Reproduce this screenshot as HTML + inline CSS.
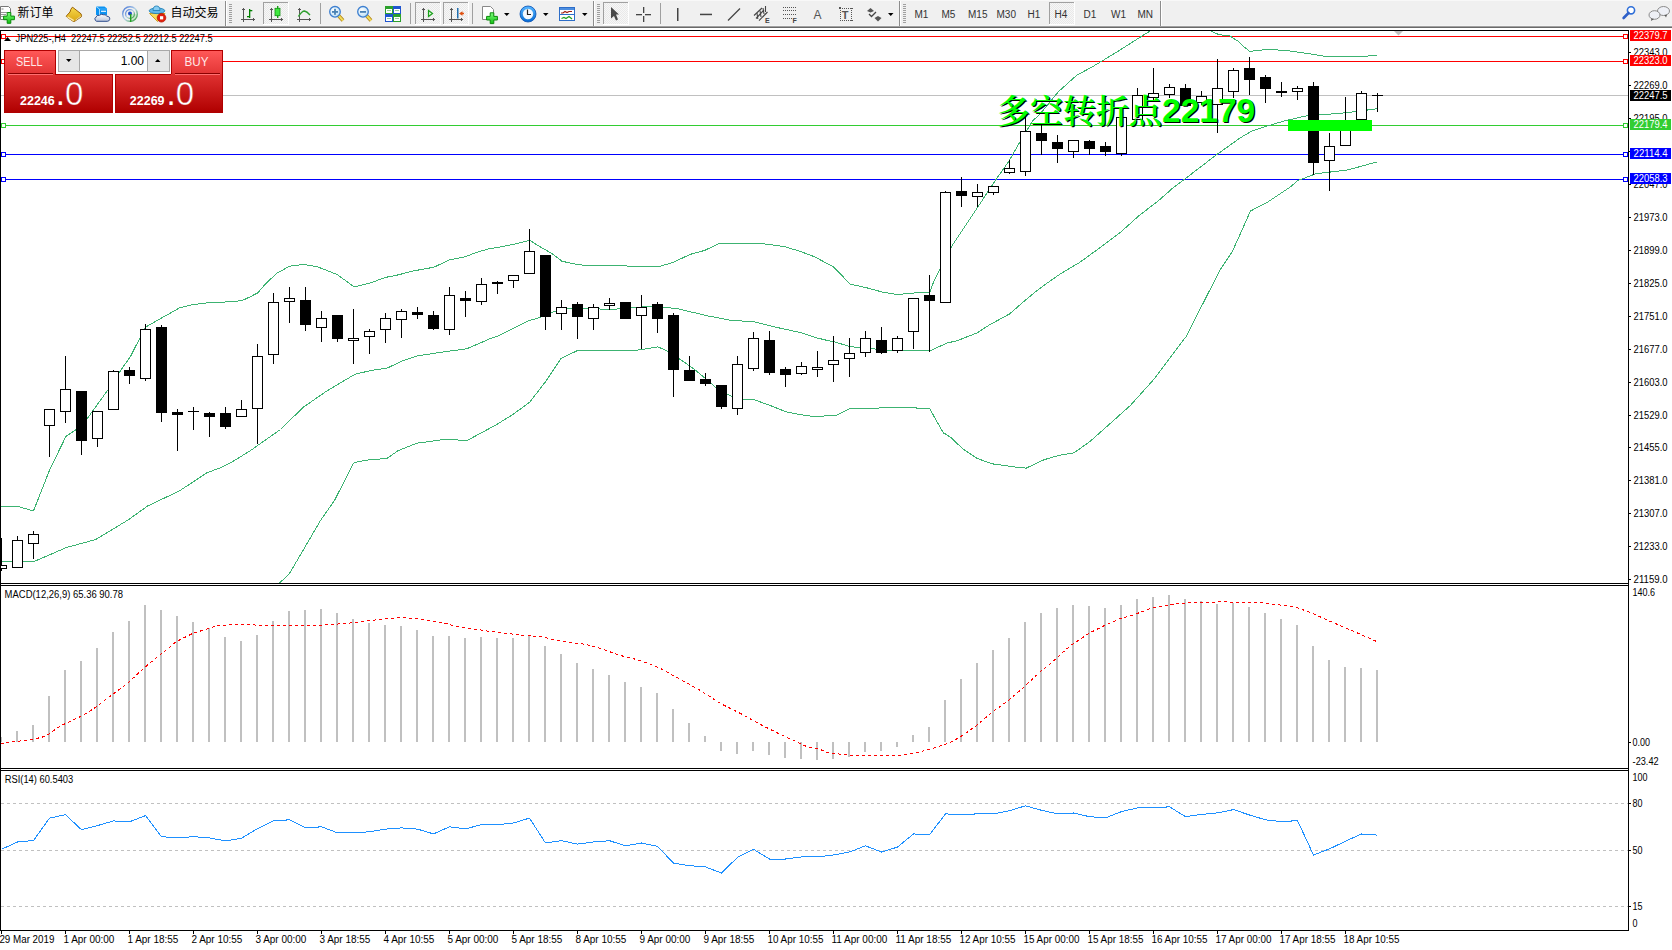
<!DOCTYPE html>
<html><head><meta charset="utf-8"><style>
html,body{margin:0;padding:0;width:1672px;height:950px;overflow:hidden;background:#fff;}
body{position:relative;font-family:"Liberation Sans","Noto Sans CJK SC",sans-serif;}
</style></head><body>
<svg width="1672" height="950" style="position:absolute;left:0;top:0"><defs><clipPath id="cm"><rect x="1" y="31" width="1627" height="552"/></clipPath><clipPath id="cd"><rect x="1" y="586" width="1627" height="182"/></clipPath><clipPath id="cr"><rect x="1" y="771" width="1627" height="159"/></clipPath></defs><rect x="0" y="30" width="1629" height="1" fill="#000"/><rect x="0" y="583" width="1629" height="1" fill="#000"/><rect x="0" y="585" width="1629" height="1" fill="#000"/><rect x="0" y="768" width="1629" height="1" fill="#000"/><rect x="0" y="770" width="1629" height="1" fill="#000"/><rect x="0" y="930" width="1629" height="1" fill="#000"/><rect x="0" y="30" width="1" height="901" fill="#000"/><rect x="1628" y="30" width="1" height="901" fill="#000"/><g clip-path="url(#cm)" shape-rendering="crispEdges"><rect x="1" y="36" width="1627" height="1" fill="#ff0000"/><rect x="1" y="61" width="1627" height="1" fill="#ff0000"/><rect x="1" y="95" width="1627" height="1" fill="#c0c0c0"/><rect x="1" y="125" width="1627" height="1" fill="#32cd32"/><rect x="1" y="154" width="1627" height="1" fill="#0000ff"/><rect x="1" y="179" width="1627" height="1" fill="#0000ff"/><polyline points="0.5,506.9 19.5,506.9 33.5,510.9 49.7,469.7 65.9,436.5 75.7,429.8 86.5,419.5 107.9,390.0 119.5,372.1 130.5,356.4 145.5,327.1 179.5,307.9 192.1,304.7 206.5,302.9 233.3,301.6 242.3,300.5 250.5,296.6 258.0,292.7 265.5,283.8 277.2,273.0 289.7,266.2 303.2,264.4 317.5,266.8 337.2,274.5 354.2,287.0 370.5,282.9 385.5,277.4 396.3,275.3 414.2,270.8 433.9,267.2 450.0,259.7 464.3,257.0 476.9,252.3 490.5,248.4 498.4,247.4 516.3,243.8 529.7,240.2 539.5,246.5 552.1,253.6 562.0,261.3 577.2,264.4 587.9,265.8 610.5,265.8 650.6,266.3 657.8,267.0 673.9,262.1 690.0,254.4 704.4,250.5 720.2,243.0 757.8,243.0 784.7,246.6 800.8,251.6 815.1,257.0 830.5,265.4 833.0,266.3 838.4,271.7 850.0,284.2 865.3,287.4 883.2,292.3 897.5,294.6 910.0,293.2 929.7,292.3 934.1,280.5 940.3,268.4 952.0,245.7 975.3,210.8 996.7,178.5 1009.3,160.6 1020.0,141.8 1032.5,121.2 1041.5,112.3 1058.4,91.7 1076.3,75.6 1094.2,65.7 1103.2,60.3 1119.3,50.5 1143.4,35.1 1149.3,31.5 1150.0,29.5" fill="none" stroke="#3cb371" stroke-width="1" /><polyline points="1211.5,29.5 1212.0,31.5 1218.6,34.5 1226.0,35.5 1229.5,35.5 1232.6,37.7 1237.7,41.0 1245.1,47.7 1250.3,51.9 1253.2,51.0 1262.0,50.0 1272.7,49.6 1288.8,50.9 1308.5,53.6 1326.4,56.6 1351.5,56.6 1377.4,55.7" fill="none" stroke="#3cb371" stroke-width="1" /><polyline points="0.5,561.7 22.5,561.5 33.5,561.7 66.8,547.4 95.5,539.6 128.5,519.7 147.4,506.1 179.5,490.9 206.5,473.0 220.8,467.6 231.5,462.3 250.5,450.6 258.5,444.9 280.5,429.5 303.2,407.3 326.5,391.2 355.1,374.2 370.5,370.6 387.4,368.0 401.7,361.2 417.8,355.8 441.1,352.3 467.0,348.7 490.5,338.5 498.4,336.0 528.8,320.8 542.3,316.7 552.1,312.2 564.7,308.2 587.9,308.2 610.5,309.7 630.9,307.4 654.2,306.5 665.0,307.4 677.5,308.7 707.9,315.9 730.5,320.3 754.2,321.8 775.7,327.2 800.8,332.6 816.9,337.9 830.5,341.2 834.8,341.9 850.9,346.9 859.9,347.2 872.4,348.7 892.1,350.8 929.7,351.0 946.6,343.2 957.4,340.6 977.1,332.9 989.6,324.8 1009.3,314.1 1021.8,303.3 1034.4,292.6 1045.1,284.5 1060.5,273.8 1079.9,262.3 1099.6,247.9 1121.1,231.8 1139.0,215.7 1158.7,200.5 1170.5,190.2 1171.5,188.9 1185.0,178.9 1215.4,155.6 1240.5,137.7 1251.2,131.4 1267.3,126.0 1285.2,120.7 1306.7,115.8 1330.0,114.1 1347.9,112.6 1377.4,108.7" fill="none" stroke="#3cb371" stroke-width="1" /><polyline points="276.5,584.5 279.5,583.1 289.5,573.5 320.5,520.5 334.5,500.5 353.5,463.1 356.5,462.1 370.5,459.5 386.5,458.7 398.1,450.7 416.9,443.2 441.1,439.9 457.2,439.9 466.1,441.0 490.5,427.9 496.6,424.5 512.7,414.7 529.7,402.1 545.0,382.4 561.1,358.3 577.2,350.7 610.5,350.7 632.7,350.8 643.5,349.3 657.8,346.8 668.5,351.7 679.3,358.8 693.6,368.7 704.4,377.6 716.9,388.4 730.5,395.9 743.5,399.1 754.2,399.8 768.5,404.8 786.5,412.0 800.8,414.7 815.1,416.8 830.5,415.5 834.8,416.0 849.1,408.8 872.4,408.5 890.3,407.1 906.4,407.4 929.7,408.8 944.0,433.9 945.5,434.0 949.0,436.4 950.5,437.1 962.8,448.9 977.2,458.5 992.7,463.9 1014.2,466.9 1026.2,468.1 1044.1,459.7 1058.5,455.5 1074.0,452.8 1089.6,441.8 1109.9,423.8 1130.5,405.3 1153.7,379.5 1186.3,336.3 1220.0,270.0 1232.6,251.0 1250.5,211.0 1268.4,201.6 1290.5,186.8 1297.8,180.6 1315.7,173.8 1347.9,169.9 1377.4,161.8" fill="none" stroke="#3cb371" stroke-width="1" /><rect x="1" y="538" width="1" height="27" fill="#000"/><rect x="1" y="569" width="1" height="2" fill="#000"/><rect x="-4" y="565" width="11" height="4" fill="#000"/><rect x="-3" y="566" width="9" height="2" fill="#fff"/><rect x="17" y="536" width="1" height="4" fill="#000"/><rect x="12" y="540" width="11" height="28" fill="#000"/><rect x="13" y="541" width="9" height="26" fill="#fff"/><rect x="33" y="531" width="1" height="3" fill="#000"/><rect x="33" y="544" width="1" height="15" fill="#000"/><rect x="28" y="534" width="11" height="10" fill="#000"/><rect x="29" y="535" width="9" height="8" fill="#fff"/><rect x="49" y="426" width="1" height="31" fill="#000"/><rect x="44" y="409" width="11" height="17" fill="#000"/><rect x="45" y="410" width="9" height="15" fill="#fff"/><rect x="65" y="356" width="1" height="33" fill="#000"/><rect x="65" y="412" width="1" height="11" fill="#000"/><rect x="60" y="389" width="11" height="23" fill="#000"/><rect x="61" y="390" width="9" height="21" fill="#fff"/><rect x="81" y="441" width="1" height="14" fill="#000"/><rect x="76" y="391" width="11" height="50" fill="#000"/><rect x="97" y="439" width="1" height="8" fill="#000"/><rect x="92" y="411" width="11" height="28" fill="#000"/><rect x="93" y="412" width="9" height="26" fill="#fff"/><rect x="113" y="370" width="1" height="1" fill="#000"/><rect x="108" y="371" width="11" height="39" fill="#000"/><rect x="109" y="372" width="9" height="37" fill="#fff"/><rect x="129" y="367" width="1" height="3" fill="#000"/><rect x="129" y="376" width="1" height="8" fill="#000"/><rect x="124" y="370" width="11" height="6" fill="#000"/><rect x="145" y="324" width="1" height="5" fill="#000"/><rect x="145" y="379" width="1" height="2" fill="#000"/><rect x="140" y="329" width="11" height="50" fill="#000"/><rect x="141" y="330" width="9" height="48" fill="#fff"/><rect x="161" y="325" width="1" height="2" fill="#000"/><rect x="161" y="413" width="1" height="9" fill="#000"/><rect x="156" y="327" width="11" height="86" fill="#000"/><rect x="177" y="409" width="1" height="3" fill="#000"/><rect x="177" y="415" width="1" height="36" fill="#000"/><rect x="172" y="412" width="11" height="3" fill="#000"/><rect x="193" y="407" width="1" height="4" fill="#000"/><rect x="193" y="412" width="1" height="18" fill="#000"/><rect x="188" y="411" width="11" height="1" fill="#000"/><rect x="209" y="412" width="1" height="1" fill="#000"/><rect x="209" y="417" width="1" height="20" fill="#000"/><rect x="204" y="413" width="11" height="4" fill="#000"/><rect x="225" y="407" width="1" height="6" fill="#000"/><rect x="225" y="427" width="1" height="2" fill="#000"/><rect x="220" y="413" width="11" height="14" fill="#000"/><rect x="241" y="400" width="1" height="9" fill="#000"/><rect x="236" y="409" width="11" height="8" fill="#000"/><rect x="237" y="410" width="9" height="6" fill="#fff"/><rect x="257" y="344" width="1" height="12" fill="#000"/><rect x="257" y="409" width="1" height="35" fill="#000"/><rect x="252" y="356" width="11" height="53" fill="#000"/><rect x="253" y="357" width="9" height="51" fill="#fff"/><rect x="273" y="293" width="1" height="9" fill="#000"/><rect x="273" y="355" width="1" height="9" fill="#000"/><rect x="268" y="302" width="11" height="53" fill="#000"/><rect x="269" y="303" width="9" height="51" fill="#fff"/><rect x="289" y="287" width="1" height="11" fill="#000"/><rect x="289" y="302" width="1" height="21" fill="#000"/><rect x="284" y="298" width="11" height="4" fill="#000"/><rect x="285" y="299" width="9" height="2" fill="#fff"/><rect x="305" y="287" width="1" height="13" fill="#000"/><rect x="305" y="325" width="1" height="6" fill="#000"/><rect x="300" y="300" width="11" height="25" fill="#000"/><rect x="321" y="311" width="1" height="7" fill="#000"/><rect x="321" y="328" width="1" height="14" fill="#000"/><rect x="316" y="318" width="11" height="10" fill="#000"/><rect x="317" y="319" width="9" height="8" fill="#fff"/><rect x="337" y="339" width="1" height="3" fill="#000"/><rect x="332" y="315" width="11" height="24" fill="#000"/><rect x="353" y="309" width="1" height="29" fill="#000"/><rect x="353" y="341" width="1" height="23" fill="#000"/><rect x="348" y="338" width="11" height="3" fill="#000"/><rect x="349" y="339" width="9" height="1" fill="#fff"/><rect x="369" y="329" width="1" height="2" fill="#000"/><rect x="369" y="337" width="1" height="17" fill="#000"/><rect x="364" y="331" width="11" height="6" fill="#000"/><rect x="365" y="332" width="9" height="4" fill="#fff"/><rect x="385" y="313" width="1" height="5" fill="#000"/><rect x="385" y="330" width="1" height="13" fill="#000"/><rect x="380" y="318" width="11" height="12" fill="#000"/><rect x="381" y="319" width="9" height="10" fill="#fff"/><rect x="401" y="309" width="1" height="2" fill="#000"/><rect x="401" y="320" width="1" height="18" fill="#000"/><rect x="396" y="311" width="11" height="9" fill="#000"/><rect x="397" y="312" width="9" height="7" fill="#fff"/><rect x="417" y="307" width="1" height="5" fill="#000"/><rect x="417" y="315" width="1" height="4" fill="#000"/><rect x="412" y="312" width="11" height="3" fill="#000"/><rect x="433" y="311" width="1" height="4" fill="#000"/><rect x="433" y="329" width="1" height="1" fill="#000"/><rect x="428" y="315" width="11" height="14" fill="#000"/><rect x="449" y="287" width="1" height="8" fill="#000"/><rect x="449" y="330" width="1" height="5" fill="#000"/><rect x="444" y="295" width="11" height="35" fill="#000"/><rect x="445" y="296" width="9" height="33" fill="#fff"/><rect x="465" y="291" width="1" height="7" fill="#000"/><rect x="465" y="301" width="1" height="16" fill="#000"/><rect x="460" y="298" width="11" height="3" fill="#000"/><rect x="481" y="278" width="1" height="6" fill="#000"/><rect x="481" y="302" width="1" height="3" fill="#000"/><rect x="476" y="284" width="11" height="18" fill="#000"/><rect x="477" y="285" width="9" height="16" fill="#fff"/><rect x="497" y="281" width="1" height="1" fill="#000"/><rect x="497" y="284" width="1" height="10" fill="#000"/><rect x="492" y="282" width="11" height="2" fill="#000"/><rect x="513" y="281" width="1" height="7" fill="#000"/><rect x="508" y="275" width="11" height="6" fill="#000"/><rect x="509" y="276" width="9" height="4" fill="#fff"/><rect x="529" y="229" width="1" height="22" fill="#000"/><rect x="524" y="251" width="11" height="23" fill="#000"/><rect x="525" y="252" width="9" height="21" fill="#fff"/><rect x="545" y="317" width="1" height="13" fill="#000"/><rect x="540" y="255" width="11" height="62" fill="#000"/><rect x="561" y="300" width="1" height="7" fill="#000"/><rect x="561" y="314" width="1" height="16" fill="#000"/><rect x="556" y="307" width="11" height="7" fill="#000"/><rect x="557" y="308" width="9" height="5" fill="#fff"/><rect x="577" y="302" width="1" height="2" fill="#000"/><rect x="577" y="317" width="1" height="22" fill="#000"/><rect x="572" y="304" width="11" height="13" fill="#000"/><rect x="593" y="304" width="1" height="3" fill="#000"/><rect x="593" y="319" width="1" height="11" fill="#000"/><rect x="588" y="307" width="11" height="12" fill="#000"/><rect x="589" y="308" width="9" height="10" fill="#fff"/><rect x="609" y="298" width="1" height="5" fill="#000"/><rect x="609" y="306" width="1" height="4" fill="#000"/><rect x="604" y="303" width="11" height="3" fill="#000"/><rect x="605" y="304" width="9" height="1" fill="#fff"/><rect x="620" y="302" width="11" height="17" fill="#000"/><rect x="641" y="295" width="1" height="12" fill="#000"/><rect x="641" y="316" width="1" height="33" fill="#000"/><rect x="636" y="307" width="11" height="9" fill="#000"/><rect x="637" y="308" width="9" height="7" fill="#fff"/><rect x="657" y="302" width="1" height="2" fill="#000"/><rect x="657" y="319" width="1" height="14" fill="#000"/><rect x="652" y="304" width="11" height="15" fill="#000"/><rect x="673" y="313" width="1" height="2" fill="#000"/><rect x="673" y="370" width="1" height="27" fill="#000"/><rect x="668" y="315" width="11" height="55" fill="#000"/><rect x="689" y="356" width="1" height="14" fill="#000"/><rect x="684" y="370" width="11" height="11" fill="#000"/><rect x="705" y="373" width="1" height="6" fill="#000"/><rect x="705" y="384" width="1" height="2" fill="#000"/><rect x="700" y="379" width="11" height="5" fill="#000"/><rect x="721" y="407" width="1" height="2" fill="#000"/><rect x="716" y="385" width="11" height="22" fill="#000"/><rect x="737" y="356" width="1" height="8" fill="#000"/><rect x="737" y="409" width="1" height="6" fill="#000"/><rect x="732" y="364" width="11" height="45" fill="#000"/><rect x="733" y="365" width="9" height="43" fill="#fff"/><rect x="753" y="332" width="1" height="6" fill="#000"/><rect x="753" y="369" width="1" height="2" fill="#000"/><rect x="748" y="338" width="11" height="31" fill="#000"/><rect x="749" y="339" width="9" height="29" fill="#fff"/><rect x="769" y="331" width="1" height="9" fill="#000"/><rect x="769" y="373" width="1" height="2" fill="#000"/><rect x="764" y="340" width="11" height="33" fill="#000"/><rect x="785" y="367" width="1" height="2" fill="#000"/><rect x="785" y="375" width="1" height="12" fill="#000"/><rect x="780" y="369" width="11" height="6" fill="#000"/><rect x="801" y="362" width="1" height="4" fill="#000"/><rect x="801" y="374" width="1" height="1" fill="#000"/><rect x="796" y="366" width="11" height="8" fill="#000"/><rect x="797" y="367" width="9" height="6" fill="#fff"/><rect x="817" y="351" width="1" height="16" fill="#000"/><rect x="817" y="370" width="1" height="7" fill="#000"/><rect x="812" y="367" width="11" height="3" fill="#000"/><rect x="813" y="368" width="9" height="1" fill="#fff"/><rect x="833" y="336" width="1" height="24" fill="#000"/><rect x="833" y="365" width="1" height="17" fill="#000"/><rect x="828" y="360" width="11" height="5" fill="#000"/><rect x="829" y="361" width="9" height="3" fill="#fff"/><rect x="849" y="338" width="1" height="15" fill="#000"/><rect x="849" y="359" width="1" height="18" fill="#000"/><rect x="844" y="353" width="11" height="6" fill="#000"/><rect x="845" y="354" width="9" height="4" fill="#fff"/><rect x="865" y="331" width="1" height="7" fill="#000"/><rect x="865" y="353" width="1" height="4" fill="#000"/><rect x="860" y="338" width="11" height="15" fill="#000"/><rect x="861" y="339" width="9" height="13" fill="#fff"/><rect x="881" y="327" width="1" height="13" fill="#000"/><rect x="881" y="353" width="1" height="1" fill="#000"/><rect x="876" y="340" width="11" height="13" fill="#000"/><rect x="897" y="336" width="1" height="2" fill="#000"/><rect x="897" y="351" width="1" height="2" fill="#000"/><rect x="892" y="338" width="11" height="13" fill="#000"/><rect x="893" y="339" width="9" height="11" fill="#fff"/><rect x="913" y="332" width="1" height="17" fill="#000"/><rect x="908" y="298" width="11" height="34" fill="#000"/><rect x="909" y="299" width="9" height="32" fill="#fff"/><rect x="929" y="275" width="1" height="20" fill="#000"/><rect x="929" y="301" width="1" height="51" fill="#000"/><rect x="924" y="295" width="11" height="6" fill="#000"/><rect x="945" y="191" width="1" height="1" fill="#000"/><rect x="940" y="192" width="11" height="111" fill="#000"/><rect x="941" y="193" width="9" height="109" fill="#fff"/><rect x="961" y="177" width="1" height="14" fill="#000"/><rect x="961" y="196" width="1" height="11" fill="#000"/><rect x="956" y="191" width="11" height="5" fill="#000"/><rect x="977" y="184" width="1" height="8" fill="#000"/><rect x="977" y="197" width="1" height="10" fill="#000"/><rect x="972" y="192" width="11" height="5" fill="#000"/><rect x="973" y="193" width="9" height="3" fill="#fff"/><rect x="993" y="193" width="1" height="2" fill="#000"/><rect x="988" y="186" width="11" height="7" fill="#000"/><rect x="989" y="187" width="9" height="5" fill="#fff"/><rect x="1009" y="160" width="1" height="8" fill="#000"/><rect x="1009" y="173" width="1" height="1" fill="#000"/><rect x="1004" y="168" width="11" height="5" fill="#000"/><rect x="1005" y="169" width="9" height="3" fill="#fff"/><rect x="1025" y="114" width="1" height="17" fill="#000"/><rect x="1025" y="172" width="1" height="4" fill="#000"/><rect x="1020" y="131" width="11" height="41" fill="#000"/><rect x="1021" y="132" width="9" height="39" fill="#fff"/><rect x="1041" y="124" width="1" height="9" fill="#000"/><rect x="1041" y="141" width="1" height="14" fill="#000"/><rect x="1036" y="133" width="11" height="8" fill="#000"/><rect x="1057" y="135" width="1" height="7" fill="#000"/><rect x="1057" y="149" width="1" height="14" fill="#000"/><rect x="1052" y="142" width="11" height="7" fill="#000"/><rect x="1073" y="152" width="1" height="6" fill="#000"/><rect x="1068" y="140" width="11" height="12" fill="#000"/><rect x="1069" y="141" width="9" height="10" fill="#fff"/><rect x="1089" y="140" width="1" height="1" fill="#000"/><rect x="1089" y="149" width="1" height="6" fill="#000"/><rect x="1084" y="141" width="11" height="8" fill="#000"/><rect x="1105" y="142" width="1" height="4" fill="#000"/><rect x="1105" y="152" width="1" height="4" fill="#000"/><rect x="1100" y="146" width="11" height="6" fill="#000"/><rect x="1121" y="154" width="1" height="2" fill="#000"/><rect x="1116" y="117" width="11" height="37" fill="#000"/><rect x="1117" y="118" width="9" height="35" fill="#fff"/><rect x="1137" y="88" width="1" height="7" fill="#000"/><rect x="1132" y="95" width="11" height="25" fill="#000"/><rect x="1133" y="96" width="9" height="23" fill="#fff"/><rect x="1153" y="68" width="1" height="25" fill="#000"/><rect x="1153" y="98" width="1" height="2" fill="#000"/><rect x="1148" y="93" width="11" height="5" fill="#000"/><rect x="1149" y="94" width="9" height="3" fill="#fff"/><rect x="1169" y="84" width="1" height="3" fill="#000"/><rect x="1169" y="95" width="1" height="3" fill="#000"/><rect x="1164" y="87" width="11" height="8" fill="#000"/><rect x="1165" y="88" width="9" height="6" fill="#fff"/><rect x="1185" y="84" width="1" height="4" fill="#000"/><rect x="1180" y="88" width="11" height="18" fill="#000"/><rect x="1201" y="91" width="1" height="5" fill="#000"/><rect x="1201" y="103" width="1" height="2" fill="#000"/><rect x="1196" y="96" width="11" height="7" fill="#000"/><rect x="1197" y="97" width="9" height="5" fill="#fff"/><rect x="1217" y="59" width="1" height="29" fill="#000"/><rect x="1217" y="105" width="1" height="28" fill="#000"/><rect x="1212" y="88" width="11" height="17" fill="#000"/><rect x="1213" y="89" width="9" height="15" fill="#fff"/><rect x="1233" y="68" width="1" height="2" fill="#000"/><rect x="1233" y="92" width="1" height="6" fill="#000"/><rect x="1228" y="70" width="11" height="22" fill="#000"/><rect x="1229" y="71" width="9" height="20" fill="#fff"/><rect x="1249" y="57" width="1" height="11" fill="#000"/><rect x="1249" y="80" width="1" height="15" fill="#000"/><rect x="1244" y="68" width="11" height="12" fill="#000"/><rect x="1265" y="75" width="1" height="2" fill="#000"/><rect x="1265" y="89" width="1" height="14" fill="#000"/><rect x="1260" y="77" width="11" height="12" fill="#000"/><rect x="1281" y="82" width="1" height="9" fill="#000"/><rect x="1281" y="93" width="1" height="4" fill="#000"/><rect x="1276" y="91" width="11" height="2" fill="#000"/><rect x="1297" y="86" width="1" height="2" fill="#000"/><rect x="1297" y="92" width="1" height="8" fill="#000"/><rect x="1292" y="88" width="11" height="4" fill="#000"/><rect x="1293" y="89" width="9" height="2" fill="#fff"/><rect x="1313" y="82" width="1" height="4" fill="#000"/><rect x="1313" y="163" width="1" height="12" fill="#000"/><rect x="1308" y="86" width="11" height="77" fill="#000"/><rect x="1329" y="133" width="1" height="13" fill="#000"/><rect x="1329" y="161" width="1" height="30" fill="#000"/><rect x="1324" y="146" width="11" height="15" fill="#000"/><rect x="1325" y="147" width="9" height="13" fill="#fff"/><rect x="1345" y="97" width="1" height="32" fill="#000"/><rect x="1340" y="129" width="11" height="17" fill="#000"/><rect x="1341" y="130" width="9" height="15" fill="#fff"/><rect x="1361" y="91" width="1" height="2" fill="#000"/><rect x="1361" y="120" width="1" height="2" fill="#000"/><rect x="1356" y="93" width="11" height="27" fill="#000"/><rect x="1357" y="94" width="9" height="25" fill="#fff"/><rect x="1377" y="93" width="1" height="2" fill="#000"/><rect x="1377" y="96" width="1" height="16" fill="#000"/><rect x="1372" y="95" width="11" height="1" fill="#000"/><rect x="1623.5" y="34.5" width="4" height="4" fill="#fff" stroke="#ff0000" stroke-width="1"/><rect x="1.5" y="34.5" width="4" height="4" fill="#fff" stroke="#ff0000" stroke-width="1"/><rect x="1623.5" y="59.5" width="4" height="4" fill="#fff" stroke="#ff0000" stroke-width="1"/><rect x="1.5" y="59.5" width="4" height="4" fill="#fff" stroke="#ff0000" stroke-width="1"/><rect x="1623.5" y="123.5" width="4" height="4" fill="#fff" stroke="#32cd32" stroke-width="1"/><rect x="1.5" y="123.5" width="4" height="4" fill="#fff" stroke="#32cd32" stroke-width="1"/><rect x="1623.5" y="152.5" width="4" height="4" fill="#fff" stroke="#0000ff" stroke-width="1"/><rect x="1.5" y="152.5" width="4" height="4" fill="#fff" stroke="#0000ff" stroke-width="1"/><rect x="1623.5" y="177.5" width="4" height="4" fill="#fff" stroke="#0000ff" stroke-width="1"/><rect x="1.5" y="177.5" width="4" height="4" fill="#fff" stroke="#0000ff" stroke-width="1"/><rect x="1288" y="120" width="84" height="11" fill="#00ff00"/></g><text x="997" y="123" font-family="'Liberation Serif','Noto Serif CJK SC',serif" font-weight="600" font-size="33" fill="#000" transform="translate(1.3,1.3)">多空转折点<tspan font-family="'Liberation Sans',sans-serif" font-size="33.5" dy="-1.2">22179</tspan></text><text x="997" y="123" font-family="'Liberation Serif','Noto Serif CJK SC',serif" font-weight="600" font-size="33" fill="#00ff00">多空转折点<tspan font-family="'Liberation Sans',sans-serif" font-size="33.5" dy="-1.2">22179</tspan></text><g clip-path="url(#cd)" shape-rendering="crispEdges"><rect x="0" y="737" width="2" height="5" fill="#c0c0c0"/><rect x="16" y="731" width="2" height="11" fill="#c0c0c0"/><rect x="32" y="725" width="2" height="17" fill="#c0c0c0"/><rect x="48" y="696" width="2" height="46" fill="#c0c0c0"/><rect x="64" y="670" width="2" height="72" fill="#c0c0c0"/><rect x="80" y="661" width="2" height="81" fill="#c0c0c0"/><rect x="96" y="648" width="2" height="94" fill="#c0c0c0"/><rect x="112" y="632" width="2" height="110" fill="#c0c0c0"/><rect x="128" y="621" width="2" height="121" fill="#c0c0c0"/><rect x="144" y="605" width="2" height="137" fill="#c0c0c0"/><rect x="160" y="610" width="2" height="132" fill="#c0c0c0"/><rect x="176" y="616" width="2" height="126" fill="#c0c0c0"/><rect x="192" y="622" width="2" height="120" fill="#c0c0c0"/><rect x="208" y="628" width="2" height="114" fill="#c0c0c0"/><rect x="224" y="637" width="2" height="105" fill="#c0c0c0"/><rect x="240" y="641" width="2" height="101" fill="#c0c0c0"/><rect x="256" y="635" width="2" height="107" fill="#c0c0c0"/><rect x="272" y="621" width="2" height="121" fill="#c0c0c0"/><rect x="288" y="611" width="2" height="131" fill="#c0c0c0"/><rect x="304" y="610" width="2" height="132" fill="#c0c0c0"/><rect x="320" y="609" width="2" height="133" fill="#c0c0c0"/><rect x="336" y="613" width="2" height="129" fill="#c0c0c0"/><rect x="352" y="619" width="2" height="123" fill="#c0c0c0"/><rect x="368" y="623" width="2" height="119" fill="#c0c0c0"/><rect x="384" y="625" width="2" height="117" fill="#c0c0c0"/><rect x="400" y="626" width="2" height="116" fill="#c0c0c0"/><rect x="416" y="630" width="2" height="112" fill="#c0c0c0"/><rect x="432" y="636" width="2" height="106" fill="#c0c0c0"/><rect x="448" y="636" width="2" height="106" fill="#c0c0c0"/><rect x="464" y="638" width="2" height="104" fill="#c0c0c0"/><rect x="480" y="637" width="2" height="105" fill="#c0c0c0"/><rect x="496" y="638" width="2" height="104" fill="#c0c0c0"/><rect x="512" y="638" width="2" height="104" fill="#c0c0c0"/><rect x="528" y="635" width="2" height="107" fill="#c0c0c0"/><rect x="544" y="646" width="2" height="96" fill="#c0c0c0"/><rect x="560" y="654" width="2" height="88" fill="#c0c0c0"/><rect x="576" y="663" width="2" height="79" fill="#c0c0c0"/><rect x="592" y="669" width="2" height="73" fill="#c0c0c0"/><rect x="608" y="675" width="2" height="67" fill="#c0c0c0"/><rect x="624" y="682" width="2" height="60" fill="#c0c0c0"/><rect x="640" y="687" width="2" height="55" fill="#c0c0c0"/><rect x="656" y="693" width="2" height="49" fill="#c0c0c0"/><rect x="672" y="709" width="2" height="33" fill="#c0c0c0"/><rect x="688" y="723" width="2" height="19" fill="#c0c0c0"/><rect x="704" y="736" width="2" height="6" fill="#c0c0c0"/><rect x="720" y="742" width="2" height="9" fill="#c0c0c0"/><rect x="736" y="742" width="2" height="12" fill="#c0c0c0"/><rect x="752" y="742" width="2" height="9" fill="#c0c0c0"/><rect x="768" y="742" width="2" height="13" fill="#c0c0c0"/><rect x="784" y="742" width="2" height="16" fill="#c0c0c0"/><rect x="800" y="742" width="2" height="17" fill="#c0c0c0"/><rect x="816" y="742" width="2" height="18" fill="#c0c0c0"/><rect x="832" y="742" width="2" height="17" fill="#c0c0c0"/><rect x="848" y="742" width="2" height="15" fill="#c0c0c0"/><rect x="864" y="742" width="2" height="10" fill="#c0c0c0"/><rect x="880" y="742" width="2" height="9" fill="#c0c0c0"/><rect x="896" y="742" width="2" height="5" fill="#c0c0c0"/><rect x="912" y="735" width="2" height="7" fill="#c0c0c0"/><rect x="928" y="727" width="2" height="15" fill="#c0c0c0"/><rect x="944" y="700" width="2" height="42" fill="#c0c0c0"/><rect x="960" y="679" width="2" height="63" fill="#c0c0c0"/><rect x="976" y="663" width="2" height="79" fill="#c0c0c0"/><rect x="992" y="650" width="2" height="92" fill="#c0c0c0"/><rect x="1008" y="638" width="2" height="104" fill="#c0c0c0"/><rect x="1024" y="622" width="2" height="120" fill="#c0c0c0"/><rect x="1040" y="613" width="2" height="129" fill="#c0c0c0"/><rect x="1056" y="608" width="2" height="134" fill="#c0c0c0"/><rect x="1072" y="605" width="2" height="137" fill="#c0c0c0"/><rect x="1088" y="606" width="2" height="136" fill="#c0c0c0"/><rect x="1104" y="608" width="2" height="134" fill="#c0c0c0"/><rect x="1120" y="605" width="2" height="137" fill="#c0c0c0"/><rect x="1136" y="599" width="2" height="143" fill="#c0c0c0"/><rect x="1152" y="597" width="2" height="145" fill="#c0c0c0"/><rect x="1168" y="595" width="2" height="147" fill="#c0c0c0"/><rect x="1184" y="599" width="2" height="143" fill="#c0c0c0"/><rect x="1200" y="601" width="2" height="141" fill="#c0c0c0"/><rect x="1216" y="604" width="2" height="138" fill="#c0c0c0"/><rect x="1232" y="603" width="2" height="139" fill="#c0c0c0"/><rect x="1248" y="607" width="2" height="135" fill="#c0c0c0"/><rect x="1264" y="613" width="2" height="129" fill="#c0c0c0"/><rect x="1280" y="619" width="2" height="123" fill="#c0c0c0"/><rect x="1296" y="625" width="2" height="117" fill="#c0c0c0"/><rect x="1312" y="646" width="2" height="96" fill="#c0c0c0"/><rect x="1328" y="660" width="2" height="82" fill="#c0c0c0"/><rect x="1344" y="667" width="2" height="75" fill="#c0c0c0"/><rect x="1360" y="668" width="2" height="74" fill="#c0c0c0"/><rect x="1376" y="670" width="2" height="72" fill="#c0c0c0"/><polyline points="0.5,743.5 16.5,741.5 32.5,739.5 44.5,736.5 49.5,733.5 60.5,725.9 80.5,716.5 92.5,709.5 98.5,705.1 112.5,694.5 128.5,682.5 144.5,667.5 160.5,654.5 176.5,641.5 192.5,633.5 208.5,628.5 216.5,625.9 236.5,624.1 256.5,625.1 290.5,625.9 310.5,625.9 330.5,624.5 346.5,623.5 354.5,622.5 370.5,620.5 382.5,619.1 396.5,617.9 408.5,617.9 422.5,619.5 442.5,622.5 454.5,625.9 470.5,628.5 490.5,631.5 510.5,633.9 530.5,635.9 542.5,637.1 560.5,641.1 586.5,644.5 600.5,648.5 620.5,655.5 640.5,660.5 646.5,662.9 660.5,668.5 680.5,679.5 700.5,690.5 720.5,703.5 740.5,713.5 760.5,724.5 780.5,734.5 800.5,743.5 808.5,747.5 820.5,749.5 826.5,752.5 850.5,755.5 870.5,755.5 898.5,755.5 916.5,752.5 930.5,749.1 950.5,742.5 962.5,735.5 976.5,725.5 990.5,713.5 1008.5,700.5 1024.5,686.5 1040.5,671.5 1050.5,663.5 1070.5,645.5 1090.5,632.5 1106.5,624.5 1120.5,618.5 1134.5,614.5 1150.5,608.5 1168.5,605.1 1180.5,603.1 1208.5,602.5 1220.5,601.9 1260.5,602.5 1280.5,605.1 1296.5,607.5 1310.5,612.5 1330.5,621.5 1350.5,629.9 1377.5,641.9" fill="none" stroke="#ff0000" stroke-width="1" stroke-dasharray="3,3"/></g><g clip-path="url(#cr)" shape-rendering="crispEdges"><line x1="1" y1="803.5" x2="1628" y2="803.5" stroke="#c0c0c0" stroke-width="1" stroke-dasharray="3,3"/><line x1="1" y1="850.5" x2="1628" y2="850.5" stroke="#c0c0c0" stroke-width="1" stroke-dasharray="3,3"/><line x1="1" y1="906.5" x2="1628" y2="906.5" stroke="#c0c0c0" stroke-width="1" stroke-dasharray="3,3"/><polyline points="1.5,849.3 17.5,842.0 33.5,840.5 49.5,818.1 65.5,814.7 81.5,829.7 97.5,825.6 113.5,820.9 129.5,821.8 145.5,815.6 161.5,836.7 177.5,837.9 193.5,836.7 209.5,837.9 225.5,840.9 241.5,838.3 257.5,828.6 273.5,820.9 289.5,819.8 305.5,827.9 321.5,826.8 337.5,832.8 353.5,832.8 369.5,831.8 385.5,829.1 401.5,827.9 417.5,829.1 433.5,833.9 449.5,826.8 465.5,828.8 481.5,824.7 497.5,824.7 513.5,823.0 529.5,818.1 545.5,843.0 561.5,840.7 577.5,844.1 593.5,842.0 609.5,840.7 625.5,845.8 641.5,843.0 657.5,846.4 673.5,863.1 689.5,865.7 705.5,866.9 721.5,873.1 737.5,857.3 753.5,849.3 769.5,859.0 785.5,859.0 801.5,856.9 817.5,856.9 833.5,855.0 849.5,852.0 865.5,845.8 881.5,852.0 897.5,847.1 913.5,833.9 929.5,834.9 945.5,813.8 961.5,814.9 977.5,813.8 993.5,813.8 1009.5,810.7 1025.5,805.8 1041.5,810.3 1057.5,813.8 1073.5,813.0 1089.5,816.7 1105.5,817.9 1121.5,811.6 1137.5,807.9 1153.5,807.9 1169.5,806.8 1185.5,816.7 1201.5,814.4 1217.5,812.9 1233.5,809.6 1249.5,815.0 1265.5,819.8 1281.5,821.7 1297.5,820.6 1313.5,855.0 1329.5,848.9 1345.5,841.2 1361.5,834.0 1377.5,835.1" fill="none" stroke="#1e90ff" stroke-width="1" /></g><text x="15.6" y="42" font-family="'Liberation Sans',sans-serif" font-size="10" fill="#000" textLength="197" lengthAdjust="spacingAndGlyphs">JPN225-,H4&#160; 22247.5 22252.5 22212.5 22247.5</text><text x="4.6" y="598" font-family="'Liberation Sans',sans-serif" font-size="10" fill="#000" textLength="118.4" lengthAdjust="spacingAndGlyphs">MACD(12,26,9) 65.36 90.78</text><text x="4.8" y="783" font-family="'Liberation Sans',sans-serif" font-size="10" fill="#000" textLength="68.4" lengthAdjust="spacingAndGlyphs">RSI(14) 60.5403</text><path d="M4,41 L11,41 L7.5,37 Z" fill="#000"/><rect x="1629" y="52" width="2" height="1" fill="#000"/><text x="1633.6" y="56" font-family="'Liberation Sans',sans-serif" font-size="10" fill="#000" textLength="34" lengthAdjust="spacingAndGlyphs">22343.0</text><rect x="1629" y="85" width="2" height="1" fill="#000"/><text x="1633.6" y="89" font-family="'Liberation Sans',sans-serif" font-size="10" fill="#000" textLength="34" lengthAdjust="spacingAndGlyphs">22269.0</text><rect x="1629" y="118" width="2" height="1" fill="#000"/><text x="1633.6" y="122" font-family="'Liberation Sans',sans-serif" font-size="10" fill="#000" textLength="34" lengthAdjust="spacingAndGlyphs">22195.0</text><rect x="1629" y="151" width="2" height="1" fill="#000"/><rect x="1629" y="184" width="2" height="1" fill="#000"/><text x="1633.6" y="188" font-family="'Liberation Sans',sans-serif" font-size="10" fill="#000" textLength="34" lengthAdjust="spacingAndGlyphs">22047.0</text><rect x="1629" y="217" width="2" height="1" fill="#000"/><text x="1633.6" y="221" font-family="'Liberation Sans',sans-serif" font-size="10" fill="#000" textLength="34" lengthAdjust="spacingAndGlyphs">21973.0</text><rect x="1629" y="250" width="2" height="1" fill="#000"/><text x="1633.6" y="254" font-family="'Liberation Sans',sans-serif" font-size="10" fill="#000" textLength="34" lengthAdjust="spacingAndGlyphs">21899.0</text><rect x="1629" y="283" width="2" height="1" fill="#000"/><text x="1633.6" y="287" font-family="'Liberation Sans',sans-serif" font-size="10" fill="#000" textLength="34" lengthAdjust="spacingAndGlyphs">21825.0</text><rect x="1629" y="316" width="2" height="1" fill="#000"/><text x="1633.6" y="320" font-family="'Liberation Sans',sans-serif" font-size="10" fill="#000" textLength="34" lengthAdjust="spacingAndGlyphs">21751.0</text><rect x="1629" y="349" width="2" height="1" fill="#000"/><text x="1633.6" y="353" font-family="'Liberation Sans',sans-serif" font-size="10" fill="#000" textLength="34" lengthAdjust="spacingAndGlyphs">21677.0</text><rect x="1629" y="382" width="2" height="1" fill="#000"/><text x="1633.6" y="386" font-family="'Liberation Sans',sans-serif" font-size="10" fill="#000" textLength="34" lengthAdjust="spacingAndGlyphs">21603.0</text><rect x="1629" y="415" width="2" height="1" fill="#000"/><text x="1633.6" y="419" font-family="'Liberation Sans',sans-serif" font-size="10" fill="#000" textLength="34" lengthAdjust="spacingAndGlyphs">21529.0</text><rect x="1629" y="447" width="2" height="1" fill="#000"/><text x="1633.6" y="451" font-family="'Liberation Sans',sans-serif" font-size="10" fill="#000" textLength="34" lengthAdjust="spacingAndGlyphs">21455.0</text><rect x="1629" y="480" width="2" height="1" fill="#000"/><text x="1633.6" y="484" font-family="'Liberation Sans',sans-serif" font-size="10" fill="#000" textLength="34" lengthAdjust="spacingAndGlyphs">21381.0</text><rect x="1629" y="513" width="2" height="1" fill="#000"/><text x="1633.6" y="517" font-family="'Liberation Sans',sans-serif" font-size="10" fill="#000" textLength="34" lengthAdjust="spacingAndGlyphs">21307.0</text><rect x="1629" y="546" width="2" height="1" fill="#000"/><text x="1633.6" y="550" font-family="'Liberation Sans',sans-serif" font-size="10" fill="#000" textLength="34" lengthAdjust="spacingAndGlyphs">21233.0</text><rect x="1629" y="579" width="2" height="1" fill="#000"/><text x="1633.6" y="583" font-family="'Liberation Sans',sans-serif" font-size="10" fill="#000" textLength="34" lengthAdjust="spacingAndGlyphs">21159.0</text><rect x="1630" y="30" width="41" height="11" fill="#ff0000"/><text x="1633.6" y="39" font-family="'Liberation Sans',sans-serif" font-size="10" fill="#fff" textLength="34" lengthAdjust="spacingAndGlyphs">22379.7</text><rect x="1630" y="55" width="41" height="11" fill="#ff0000"/><text x="1633.6" y="64" font-family="'Liberation Sans',sans-serif" font-size="10" fill="#fff" textLength="34" lengthAdjust="spacingAndGlyphs">22323.0</text><rect x="1630" y="90" width="41" height="11" fill="#000000"/><text x="1633.6" y="99" font-family="'Liberation Sans',sans-serif" font-size="10" fill="#fff" textLength="34" lengthAdjust="spacingAndGlyphs">22247.5</text><rect x="1630" y="119" width="41" height="11" fill="#32cd32"/><text x="1633.6" y="128" font-family="'Liberation Sans',sans-serif" font-size="10" fill="#fff" textLength="34" lengthAdjust="spacingAndGlyphs">22179.4</text><rect x="1630" y="148" width="41" height="11" fill="#0000ff"/><text x="1633.6" y="157" font-family="'Liberation Sans',sans-serif" font-size="10" fill="#fff" textLength="34" lengthAdjust="spacingAndGlyphs">22114.4</text><rect x="1630" y="173" width="41" height="11" fill="#0000ff"/><text x="1633.6" y="182" font-family="'Liberation Sans',sans-serif" font-size="10" fill="#fff" textLength="34" lengthAdjust="spacingAndGlyphs">22058.3</text><text x="1632.6" y="596" font-family="'Liberation Sans',sans-serif" font-size="10" fill="#000" textLength="22.5" lengthAdjust="spacingAndGlyphs">140.6</text><text x="1632.6" y="746" font-family="'Liberation Sans',sans-serif" font-size="10" fill="#000" textLength="17.5" lengthAdjust="spacingAndGlyphs">0.00</text><text x="1632.6" y="765" font-family="'Liberation Sans',sans-serif" font-size="10" fill="#000" textLength="26.0" lengthAdjust="spacingAndGlyphs">-23.42</text><rect x="1629" y="742" width="2" height="1" fill="#000"/><text x="1632.6" y="781" font-family="'Liberation Sans',sans-serif" font-size="10" fill="#000" textLength="15" lengthAdjust="spacingAndGlyphs">100</text><text x="1632.6" y="807" font-family="'Liberation Sans',sans-serif" font-size="10" fill="#000" textLength="10" lengthAdjust="spacingAndGlyphs">80</text><text x="1632.6" y="854" font-family="'Liberation Sans',sans-serif" font-size="10" fill="#000" textLength="10" lengthAdjust="spacingAndGlyphs">50</text><text x="1632.6" y="910" font-family="'Liberation Sans',sans-serif" font-size="10" fill="#000" textLength="10" lengthAdjust="spacingAndGlyphs">15</text><text x="1632.6" y="927" font-family="'Liberation Sans',sans-serif" font-size="10" fill="#000" textLength="5" lengthAdjust="spacingAndGlyphs">0</text><rect x="1629" y="803" width="2" height="1" fill="#000"/><rect x="1629" y="850" width="2" height="1" fill="#000"/><rect x="1629" y="906" width="2" height="1" fill="#000"/><rect x="1" y="931" width="1" height="3" fill="#000"/><text x="-0.6000000000000001" y="943" font-family="'Liberation Sans',sans-serif" font-size="10" fill="#000" textLength="55" lengthAdjust="spacingAndGlyphs">29 Mar 2019</text><rect x="65" y="931" width="1" height="3" fill="#000"/><text x="63.4" y="943" font-family="'Liberation Sans',sans-serif" font-size="10" fill="#000" textLength="51" lengthAdjust="spacingAndGlyphs">1 Apr 00:00</text><rect x="129" y="931" width="1" height="3" fill="#000"/><text x="127.4" y="943" font-family="'Liberation Sans',sans-serif" font-size="10" fill="#000" textLength="51" lengthAdjust="spacingAndGlyphs">1 Apr 18:55</text><rect x="193" y="931" width="1" height="3" fill="#000"/><text x="191.4" y="943" font-family="'Liberation Sans',sans-serif" font-size="10" fill="#000" textLength="51" lengthAdjust="spacingAndGlyphs">2 Apr 10:55</text><rect x="257" y="931" width="1" height="3" fill="#000"/><text x="255.4" y="943" font-family="'Liberation Sans',sans-serif" font-size="10" fill="#000" textLength="51" lengthAdjust="spacingAndGlyphs">3 Apr 00:00</text><rect x="321" y="931" width="1" height="3" fill="#000"/><text x="319.4" y="943" font-family="'Liberation Sans',sans-serif" font-size="10" fill="#000" textLength="51" lengthAdjust="spacingAndGlyphs">3 Apr 18:55</text><rect x="385" y="931" width="1" height="3" fill="#000"/><text x="383.4" y="943" font-family="'Liberation Sans',sans-serif" font-size="10" fill="#000" textLength="51" lengthAdjust="spacingAndGlyphs">4 Apr 10:55</text><rect x="449" y="931" width="1" height="3" fill="#000"/><text x="447.4" y="943" font-family="'Liberation Sans',sans-serif" font-size="10" fill="#000" textLength="51" lengthAdjust="spacingAndGlyphs">5 Apr 00:00</text><rect x="513" y="931" width="1" height="3" fill="#000"/><text x="511.4" y="943" font-family="'Liberation Sans',sans-serif" font-size="10" fill="#000" textLength="51" lengthAdjust="spacingAndGlyphs">5 Apr 18:55</text><rect x="577" y="931" width="1" height="3" fill="#000"/><text x="575.4" y="943" font-family="'Liberation Sans',sans-serif" font-size="10" fill="#000" textLength="51" lengthAdjust="spacingAndGlyphs">8 Apr 10:55</text><rect x="641" y="931" width="1" height="3" fill="#000"/><text x="639.4" y="943" font-family="'Liberation Sans',sans-serif" font-size="10" fill="#000" textLength="51" lengthAdjust="spacingAndGlyphs">9 Apr 00:00</text><rect x="705" y="931" width="1" height="3" fill="#000"/><text x="703.4" y="943" font-family="'Liberation Sans',sans-serif" font-size="10" fill="#000" textLength="51" lengthAdjust="spacingAndGlyphs">9 Apr 18:55</text><rect x="769" y="931" width="1" height="3" fill="#000"/><text x="767.4" y="943" font-family="'Liberation Sans',sans-serif" font-size="10" fill="#000" textLength="56" lengthAdjust="spacingAndGlyphs">10 Apr 10:55</text><rect x="833" y="931" width="1" height="3" fill="#000"/><text x="831.4" y="943" font-family="'Liberation Sans',sans-serif" font-size="10" fill="#000" textLength="56" lengthAdjust="spacingAndGlyphs">11 Apr 00:00</text><rect x="897" y="931" width="1" height="3" fill="#000"/><text x="895.4" y="943" font-family="'Liberation Sans',sans-serif" font-size="10" fill="#000" textLength="56" lengthAdjust="spacingAndGlyphs">11 Apr 18:55</text><rect x="961" y="931" width="1" height="3" fill="#000"/><text x="959.4" y="943" font-family="'Liberation Sans',sans-serif" font-size="10" fill="#000" textLength="56" lengthAdjust="spacingAndGlyphs">12 Apr 10:55</text><rect x="1025" y="931" width="1" height="3" fill="#000"/><text x="1023.4" y="943" font-family="'Liberation Sans',sans-serif" font-size="10" fill="#000" textLength="56" lengthAdjust="spacingAndGlyphs">15 Apr 00:00</text><rect x="1089" y="931" width="1" height="3" fill="#000"/><text x="1087.4" y="943" font-family="'Liberation Sans',sans-serif" font-size="10" fill="#000" textLength="56" lengthAdjust="spacingAndGlyphs">15 Apr 18:55</text><rect x="1153" y="931" width="1" height="3" fill="#000"/><text x="1151.4" y="943" font-family="'Liberation Sans',sans-serif" font-size="10" fill="#000" textLength="56" lengthAdjust="spacingAndGlyphs">16 Apr 10:55</text><rect x="1217" y="931" width="1" height="3" fill="#000"/><text x="1215.4" y="943" font-family="'Liberation Sans',sans-serif" font-size="10" fill="#000" textLength="56" lengthAdjust="spacingAndGlyphs">17 Apr 00:00</text><rect x="1281" y="931" width="1" height="3" fill="#000"/><text x="1279.4" y="943" font-family="'Liberation Sans',sans-serif" font-size="10" fill="#000" textLength="56" lengthAdjust="spacingAndGlyphs">17 Apr 18:55</text><rect x="1345" y="931" width="1" height="3" fill="#000"/><text x="1343.4" y="943" font-family="'Liberation Sans',sans-serif" font-size="10" fill="#000" textLength="56" lengthAdjust="spacingAndGlyphs">18 Apr 10:55</text><path d="M1394,31 L1403,31 L1398.5,35.5 Z" fill="#c0c0c0"/></svg>
<svg width="1672" height="30" style="position:absolute;left:0;top:0"><defs><pattern id="chk" width="2" height="2" patternUnits="userSpaceOnUse"><rect width="2" height="2" fill="#f7f7f7"/><rect width="1" height="1" fill="#e9e9e9"/><rect x="1" y="1" width="1" height="1" fill="#e9e9e9"/></pattern><linearGradient id="gold" x1="0" y1="0" x2="0" y2="1"><stop offset="0" stop-color="#f7d84a"/><stop offset="1" stop-color="#d9a514"/></linearGradient><linearGradient id="gplus" x1="0" y1="0" x2="0" y2="1"><stop offset="0" stop-color="#7dff7d"/><stop offset="1" stop-color="#10c010"/></linearGradient><radialGradient id="lens" cx="0.4" cy="0.35" r="0.7"><stop offset="0" stop-color="#ffffff"/><stop offset="1" stop-color="#b9def5"/></radialGradient><linearGradient id="blu" x1="0" y1="0" x2="0" y2="1"><stop offset="0" stop-color="#4fb0ff"/><stop offset="1" stop-color="#0a6fd8"/></linearGradient></defs><rect x="0" y="0" width="1672" height="26" fill="#f0f0f0"/><rect x="0" y="0" width="1672" height="1" fill="#f8f8f8"/><rect x="0" y="25" width="1672" height="1" fill="#f4f4f4"/><rect x="0" y="26" width="1672" height="1" fill="#a0a0a0"/><rect x="0" y="27" width="1672" height="1" fill="#696969"/><rect x="0" y="28" width="1672" height="2" fill="#ffffff"/><path d="M0.5,6.5 L8.5,6.5 L10.5,8.5 L10.5,19.5 L0.5,19.5Z" fill="#fff" stroke="#777" stroke-width="1"/><rect x="1.5" y="8.5" width="2" height="1" fill="#888"/><rect x="1" y="12" width="6" height="1" fill="#999"/><rect x="1" y="14" width="5" height="1" fill="#999"/><rect x="1" y="16" width="3" height="1" fill="#999"/><path d="M7.2,12.5 h3.6 v3.6 h3.6 v3.6 h-3.6 v3.6 h-3.6 v-3.6 h-3.6 v-3.6 h3.6z" fill="url(#gplus)" stroke="#0a8a0a" stroke-width="1"/><text x="17.5" y="17" font-family="'Liberation Sans','Noto Sans CJK SC','WenQuanYi Zen Hei',sans-serif" font-size="12" fill="#000">新订单</text><path d="M72,7.5 Q70.5,9.5 70,12 L66.5,15.8 Q66,16.6 67,17.2 L73.3,21.4 Q74,21.8 74.8,21.2 L81.3,16.8 Q82,16 81,13.8 L72.8,7.4Z" fill="url(#gold)" stroke="#9a6208" stroke-width="1"/><path d="M67.5,16.8 L73.8,20.6" stroke="#fbe7a0" stroke-width="1.4"/><path d="M75.5,20.2 L80.8,16.2" stroke="#e8d8a0" stroke-width="1"/><path d="M96,6.5 L104.5,6.5 L107,8.5 L107,15 L96,15Z" fill="#0b92f2"/><path d="M96,6.5 L99.5,9 L99.5,15" stroke="#c8ecff" stroke-width="0.8" fill="none"/><path d="M99.5,9 L107,9" stroke="#5cc0ff" stroke-width="0.7"/><rect x="101" y="10.7" width="5" height="1.2" fill="#e8f6ff"/><defs><linearGradient id="cl" x1="0" y1="0" x2="0" y2="1"><stop offset="0" stop-color="#ffffff"/><stop offset="1" stop-color="#b9c4da"/></linearGradient></defs><path d="M95.5,20.6 Q93.8,18.6 96.2,16.9 Q96.6,14.9 99.4,15.3 Q101,13.6 103.8,14.8 Q105.6,14 106.6,16.2 Q110.4,16.4 109.6,19.6 Q109.2,21.3 107.2,21.3 L96.8,21.3 Q95.9,21.2 95.5,20.6Z" fill="url(#cl)" stroke="#2f4d8d" stroke-width="1"/><defs><linearGradient id="sg" x1="0" y1="0" x2="1" y2="1"><stop offset="0" stop-color="#3f6fd6"/><stop offset="0.5" stop-color="#b8d4e8"/><stop offset="1" stop-color="#2a9a2a"/></linearGradient></defs><path d="M130,14 L130,22 A8,8 0 0 0 138,14Z" fill="#bfe3bf" opacity="0.7"/><g fill="none" stroke="url(#sg)" stroke-width="1.4"><circle cx="130" cy="14" r="7.3"/><circle cx="130" cy="14" r="4.4"/></g><circle cx="130" cy="13.6" r="2" fill="#2050c8"/><rect x="130" y="14" width="1.4" height="8" fill="#20a020"/><path d="M149.5,13.5 L165,13.5 L157.5,21.5 Z" fill="#f7dc5a" stroke="#c99a10" stroke-width="0.9" stroke-linejoin="round"/><ellipse cx="157" cy="10.8" rx="7.8" ry="2.8" fill="#62b8e8" stroke="#2482b8" stroke-width="0.9"/><path d="M153,10.5 Q153,6 156.5,6 Q160,6 160,10.5Z" fill="#86cdf3" stroke="#2482b8" stroke-width="0.9"/><circle cx="161.5" cy="17.8" r="4.3" fill="#e2200c" stroke="#b01000" stroke-width="0.7"/><rect x="160" y="16.2" width="3.2" height="3.2" fill="#fff"/><text x="170.5" y="17" font-family="'Liberation Sans','Noto Sans CJK SC','WenQuanYi Zen Hei',sans-serif" font-size="12" fill="#000">自动交易</text><rect x="225" y="1" width="1" height="25" fill="#8c8c8c"/><rect x="226" y="1" width="1" height="25" fill="#ffffff"/><rect x="229" y="4" width="3" height="1" fill="#a0a0a0"/><rect x="229" y="6" width="3" height="1" fill="#a0a0a0"/><rect x="229" y="8" width="3" height="1" fill="#a0a0a0"/><rect x="229" y="10" width="3" height="1" fill="#a0a0a0"/><rect x="229" y="12" width="3" height="1" fill="#a0a0a0"/><rect x="229" y="14" width="3" height="1" fill="#a0a0a0"/><rect x="229" y="16" width="3" height="1" fill="#a0a0a0"/><rect x="229" y="18" width="3" height="1" fill="#a0a0a0"/><rect x="229" y="20" width="3" height="1" fill="#a0a0a0"/><rect x="229" y="22" width="3" height="1" fill="#a0a0a0"/><g fill="#555"><rect x="243" y="8" width="1" height="14"/><rect x="242" y="9" width="3" height="1"/><rect x="241" y="19" width="14" height="1"/><rect x="253" y="18" width="1" height="3"/></g><g fill="#008000"><rect x="249" y="9" width="1.3" height="9"/><rect x="247" y="16" width="2.5" height="1.3"/><rect x="250" y="10" width="2.3" height="1.3"/></g><rect x="263" y="2" width="26" height="22" fill="url(#chk)"/><rect x="263" y="2" width="26" height="1" fill="#a0a0a0"/><rect x="263" y="2" width="1" height="22" fill="#a0a0a0"/><rect x="263" y="24" width="26" height="1" fill="#ffffff"/><rect x="288" y="2" width="1" height="23" fill="#ffffff"/><g fill="#555"><rect x="271" y="8" width="1" height="14"/><rect x="270" y="9" width="3" height="1"/><rect x="269" y="19" width="14" height="1"/><rect x="281" y="18" width="1" height="3"/></g><rect x="277" y="6" width="1.4" height="12" fill="#18a018"/><rect x="275" y="8.3" width="5" height="7.4" fill="#3ee83e" stroke="#159015" stroke-width="0.8"/><g fill="#555"><rect x="299" y="8" width="1" height="14"/><rect x="298" y="9" width="3" height="1"/><rect x="297" y="19" width="14" height="1"/><rect x="309" y="18" width="1" height="3"/></g><path d="M298.3,16.5 Q302,11 304.5,11 Q307,11.5 310,15" fill="none" stroke="#30a030" stroke-width="1.3"/><rect x="320" y="3" width="1" height="21" fill="#a0a0a0"/><path d="M338,15 L343,20.5" stroke="#b08010" stroke-width="3.6"/><path d="M338,15 L343,20.5" stroke="#f2dc5a" stroke-width="2"/><circle cx="335" cy="11.8" r="5.3" fill="url(#lens)" stroke="#3d7fd0" stroke-width="1.3"/><rect x="332" y="11" width="6" height="1.8" fill="#4a82b4"/><rect x="334.1" y="8.8" width="1.8" height="6" fill="#4a82b4"/><path d="M366,15 L371,20.5" stroke="#b08010" stroke-width="3.6"/><path d="M366,15 L371,20.5" stroke="#f2dc5a" stroke-width="2"/><circle cx="363" cy="11.8" r="5.3" fill="url(#lens)" stroke="#3d7fd0" stroke-width="1.3"/><rect x="360" y="11" width="6" height="1.8" fill="#4a82b4"/><rect x="385" y="6" width="8" height="8" fill="#2ca02c"/><rect x="393" y="6" width="8" height="8" fill="#1f55d0"/><rect x="385" y="14" width="8" height="8" fill="#1f55d0"/><rect x="393" y="14" width="8" height="8" fill="#2ca02c"/><rect x="386" y="9" width="6" height="4" fill="#fff"/><rect x="387" y="10" width="4" height="1" fill="#9c9"/><rect x="394" y="9" width="6" height="4" fill="#fff"/><rect x="395" y="10" width="4" height="1" fill="#9c9"/><rect x="386" y="17" width="6" height="4" fill="#fff"/><rect x="387" y="18" width="4" height="1" fill="#9c9"/><rect x="394" y="17" width="6" height="4" fill="#fff"/><rect x="395" y="18" width="4" height="1" fill="#9c9"/><rect x="410" y="3" width="1" height="21" fill="#a0a0a0"/><rect x="415" y="2" width="26" height="22" fill="url(#chk)"/><rect x="415" y="2" width="26" height="1" fill="#a0a0a0"/><rect x="415" y="2" width="1" height="22" fill="#a0a0a0"/><rect x="415" y="24" width="26" height="1" fill="#ffffff"/><rect x="440" y="2" width="1" height="23" fill="#ffffff"/><g fill="#555"><rect x="423" y="8" width="1" height="14"/><rect x="422" y="9" width="3" height="1"/><rect x="421" y="19" width="14" height="1"/><rect x="433" y="18" width="1" height="3"/></g><path d="M428.5,10.5 L432.5,13.5 L428.5,16.5Z" fill="#dff5df" stroke="#18a018" stroke-width="1.2"/><rect x="443" y="2" width="26" height="22" fill="url(#chk)"/><rect x="443" y="2" width="26" height="1" fill="#a0a0a0"/><rect x="443" y="2" width="1" height="22" fill="#a0a0a0"/><rect x="443" y="24" width="26" height="1" fill="#ffffff"/><rect x="468" y="2" width="1" height="23" fill="#ffffff"/><g fill="#555"><rect x="451" y="8" width="1" height="14"/><rect x="450" y="9" width="3" height="1"/><rect x="449" y="19" width="14" height="1"/><rect x="461" y="18" width="1" height="3"/></g><rect x="457" y="8" width="1.5" height="10.5" fill="#1f6fb0"/><path d="M459,13.5 L462.5,11.3 L462.5,12.8 L464,12.8 L464,14.3 L462.5,14.3 L462.5,15.8Z" fill="#e05010"/><rect x="472" y="3" width="1" height="21" fill="#a0a0a0"/><path d="M482.5,6.5 L490.5,6.5 L493.5,9.5 L493.5,19.5 L482.5,19.5Z" fill="#fff" stroke="#888" stroke-width="1"/><path d="M490.2,12.8 h3.6 v3.6 h3.6 v3.6 h-3.6 v3.6 h-3.6 v-3.6 h-3.6 v-3.6 h3.6z" fill="url(#gplus)" stroke="#0a8a0a" stroke-width="1"/><path d="M504,13 L509.5,13 L506.75,16Z" fill="#000"/><circle cx="528" cy="14" r="6.6" fill="#f4f8ff" stroke="url(#blu)" stroke-width="2.8"/><circle cx="528" cy="14" r="8" fill="none" stroke="#0a50b0" stroke-width="0.8"/><circle cx="528" cy="14" r="5.2" fill="none" stroke="#9cc" stroke-width="0.6" stroke-dasharray="0.8,1.9"/><path d="M527.5,9.5 L527.5,14.5 L531,14.5" fill="none" stroke="#222" stroke-width="1.2"/><path d="M543,13 L548.5,13 L545.75,16Z" fill="#000"/><rect x="559.5" y="7.5" width="15" height="13" fill="#fff" stroke="#2e6ec8" stroke-width="1"/><rect x="560" y="8" width="14" height="2" fill="#4d8ee0"/><rect x="560" y="14" width="14" height="1" fill="#2e6ec8"/><path d="M561,13 L563,13 L565,11.5 L567,12.5 L569,11.5 L572,11.5" fill="none" stroke="#a02010" stroke-width="1.2"/><path d="M561.5,18.5 L564,17.5 L566,18.5 L569,16.5 L572,19" fill="none" stroke="#20a020" stroke-width="1.2"/><path d="M582,13 L587.5,13 L584.75,16Z" fill="#000"/><rect x="593" y="1" width="1" height="25" fill="#8c8c8c"/><rect x="594" y="1" width="1" height="25" fill="#ffffff"/><rect x="597" y="4" width="3" height="1" fill="#a0a0a0"/><rect x="597" y="6" width="3" height="1" fill="#a0a0a0"/><rect x="597" y="8" width="3" height="1" fill="#a0a0a0"/><rect x="597" y="10" width="3" height="1" fill="#a0a0a0"/><rect x="597" y="12" width="3" height="1" fill="#a0a0a0"/><rect x="597" y="14" width="3" height="1" fill="#a0a0a0"/><rect x="597" y="16" width="3" height="1" fill="#a0a0a0"/><rect x="597" y="18" width="3" height="1" fill="#a0a0a0"/><rect x="597" y="20" width="3" height="1" fill="#a0a0a0"/><rect x="597" y="22" width="3" height="1" fill="#a0a0a0"/><rect x="603" y="2" width="26" height="22" fill="url(#chk)"/><rect x="603" y="2" width="26" height="1" fill="#a0a0a0"/><rect x="603" y="2" width="1" height="22" fill="#a0a0a0"/><rect x="603" y="24" width="26" height="1" fill="#ffffff"/><rect x="628" y="2" width="1" height="23" fill="#ffffff"/><path d="M611,7 L619,14.5 L616,14.5 L618,19.5 L616,20.5 L614,16 L611,18.5Z" fill="#4a4a4a"/><g fill="#444"><rect x="636" y="14" width="6" height="1.3"/><rect x="645" y="14" width="6" height="1.3"/><rect x="643" y="7" width="1.3" height="6"/><rect x="643" y="16" width="1.3" height="6"/></g><rect x="660" y="3" width="1" height="21" fill="#a0a0a0"/><rect x="677" y="8" width="1.5" height="13" fill="#444"/><rect x="700" y="13.7" width="12" height="1.5" fill="#444"/><path d="M728,20.5 L740,8.5" stroke="#444" stroke-width="1.2"/><g stroke="#444" stroke-width="1.1" fill="none"><path d="M754,15.5 L762,8"/><path d="M759,20.7 L767.5,12"/><path d="M756,18.5 L764,10"/><path d="M757,13 L757.8,19 M760,10.5 L761,17 M763,8 L764,14 M765.5,6 L765.5,12"/></g><text x="765" y="23" font-family="'Liberation Sans',sans-serif" font-size="7" font-weight="bold" fill="#444">E</text><rect x="783" y="7" width="1" height="1" fill="#555"/><rect x="785" y="7" width="1" height="1" fill="#555"/><rect x="787" y="7" width="1" height="1" fill="#555"/><rect x="789" y="7" width="1" height="1" fill="#555"/><rect x="791" y="7" width="1" height="1" fill="#555"/><rect x="793" y="7" width="1" height="1" fill="#555"/><rect x="795" y="7" width="1" height="1" fill="#555"/><rect x="783" y="10" width="1" height="1" fill="#555"/><rect x="785" y="10" width="1" height="1" fill="#555"/><rect x="787" y="10" width="1" height="1" fill="#555"/><rect x="789" y="10" width="1" height="1" fill="#555"/><rect x="791" y="10" width="1" height="1" fill="#555"/><rect x="793" y="10" width="1" height="1" fill="#555"/><rect x="795" y="10" width="1" height="1" fill="#555"/><rect x="783" y="14" width="1" height="1" fill="#555"/><rect x="785" y="14" width="1" height="1" fill="#555"/><rect x="787" y="14" width="1" height="1" fill="#555"/><rect x="789" y="14" width="1" height="1" fill="#555"/><rect x="791" y="14" width="1" height="1" fill="#555"/><rect x="793" y="14" width="1" height="1" fill="#555"/><rect x="795" y="14" width="1" height="1" fill="#555"/><rect x="783" y="18" width="1" height="1" fill="#555"/><rect x="785" y="18" width="1" height="1" fill="#555"/><rect x="787" y="18" width="1" height="1" fill="#555"/><rect x="789" y="18" width="1" height="1" fill="#555"/><rect x="791" y="18" width="1" height="1" fill="#555"/><text x="792.5" y="23.3" font-family="'Liberation Sans',sans-serif" font-size="7" font-weight="bold" fill="#444">F</text><text x="813.5" y="19" font-family="'Liberation Sans',sans-serif" font-size="12" fill="#555">A</text><rect x="840" y="8" width="1" height="1" fill="#555"/><rect x="840" y="20" width="1" height="1" fill="#555"/><rect x="842" y="8" width="1" height="1" fill="#555"/><rect x="842" y="20" width="1" height="1" fill="#555"/><rect x="844" y="8" width="1" height="1" fill="#555"/><rect x="844" y="20" width="1" height="1" fill="#555"/><rect x="846" y="8" width="1" height="1" fill="#555"/><rect x="846" y="20" width="1" height="1" fill="#555"/><rect x="848" y="8" width="1" height="1" fill="#555"/><rect x="848" y="20" width="1" height="1" fill="#555"/><rect x="850" y="8" width="1" height="1" fill="#555"/><rect x="850" y="20" width="1" height="1" fill="#555"/><rect x="852" y="8" width="1" height="1" fill="#555"/><rect x="852" y="20" width="1" height="1" fill="#555"/><rect x="840" y="8" width="1" height="1" fill="#555"/><rect x="851" y="8" width="1" height="1" fill="#555"/><rect x="840" y="10" width="1" height="1" fill="#555"/><rect x="851" y="10" width="1" height="1" fill="#555"/><rect x="840" y="12" width="1" height="1" fill="#555"/><rect x="851" y="12" width="1" height="1" fill="#555"/><rect x="840" y="14" width="1" height="1" fill="#555"/><rect x="851" y="14" width="1" height="1" fill="#555"/><rect x="840" y="16" width="1" height="1" fill="#555"/><rect x="851" y="16" width="1" height="1" fill="#555"/><rect x="840" y="18" width="1" height="1" fill="#555"/><rect x="851" y="18" width="1" height="1" fill="#555"/><rect x="840" y="20" width="1" height="1" fill="#555"/><rect x="851" y="20" width="1" height="1" fill="#555"/><rect x="839" y="7" width="2" height="2" fill="#555"/><text x="841.8" y="19" font-family="'Liberation Sans',sans-serif" font-size="11" font-weight="bold" fill="#555">T</text><path d="M867,11 L870.5,8 L874,11 L870.5,12.5Z" fill="#555"/><path d="M874.5,18 L878,16 L881.5,18 L878,21.5Z" fill="#555"/><path d="M869,14 L871.5,16.5 L876,12" fill="none" stroke="#444" stroke-width="1.3"/><path d="M888,13 L893.5,13 L890.75,16Z" fill="#000"/><rect x="899" y="1" width="1" height="25" fill="#8c8c8c"/><rect x="900" y="1" width="1" height="25" fill="#ffffff"/><rect x="903" y="4" width="3" height="1" fill="#a0a0a0"/><rect x="903" y="6" width="3" height="1" fill="#a0a0a0"/><rect x="903" y="8" width="3" height="1" fill="#a0a0a0"/><rect x="903" y="10" width="3" height="1" fill="#a0a0a0"/><rect x="903" y="12" width="3" height="1" fill="#a0a0a0"/><rect x="903" y="14" width="3" height="1" fill="#a0a0a0"/><rect x="903" y="16" width="3" height="1" fill="#a0a0a0"/><rect x="903" y="18" width="3" height="1" fill="#a0a0a0"/><rect x="903" y="20" width="3" height="1" fill="#a0a0a0"/><rect x="903" y="22" width="3" height="1" fill="#a0a0a0"/><text x="914.5" y="18" font-family="'Liberation Sans',sans-serif" font-size="10" fill="#333">M1</text><text x="941.5" y="18" font-family="'Liberation Sans',sans-serif" font-size="10" fill="#333">M5</text><text x="968" y="18" font-family="'Liberation Sans',sans-serif" font-size="10" fill="#333">M15</text><text x="996.5" y="18" font-family="'Liberation Sans',sans-serif" font-size="10" fill="#333">M30</text><text x="1027.5" y="18" font-family="'Liberation Sans',sans-serif" font-size="10" fill="#333">H1</text><text x="1083.5" y="18" font-family="'Liberation Sans',sans-serif" font-size="10" fill="#333">D1</text><text x="1111" y="18" font-family="'Liberation Sans',sans-serif" font-size="10" fill="#333">W1</text><text x="1137.5" y="18" font-family="'Liberation Sans',sans-serif" font-size="10" fill="#333">MN</text><rect x="1049" y="2" width="26" height="22" fill="url(#chk)"/><rect x="1049" y="2" width="26" height="1" fill="#a0a0a0"/><rect x="1049" y="2" width="1" height="22" fill="#a0a0a0"/><rect x="1049" y="24" width="26" height="1" fill="#ffffff"/><rect x="1074" y="2" width="1" height="23" fill="#ffffff"/><text x="1054.5" y="18" font-family="'Liberation Sans',sans-serif" font-size="10" fill="#333">H4</text><rect x="1160" y="1" width="1" height="25" fill="#8c8c8c"/><rect x="1161" y="1" width="1" height="25" fill="#ffffff"/><circle cx="1631" cy="10.3" r="3.6" fill="#fff" stroke="#2f6fd8" stroke-width="1.6"/><path d="M1628.5,13 L1623.6,18" stroke="#2f60c8" stroke-width="2.6" stroke-linecap="round"/><ellipse cx="1663.5" cy="11" rx="6" ry="4.5" fill="#eef0f6" stroke="#8a8a8a" stroke-width="1"/><path d="M1664.5,15 L1666,17.5 L1667,14.8" fill="#555"/><ellipse cx="1654.5" cy="15" rx="5.5" ry="4.3" fill="#eef0f6" stroke="#8a8a8a" stroke-width="1"/><path d="M1651.5,18.5 L1651,21 L1654,19" fill="#555"/></svg>
<div style="position:absolute;left:4px;top:50px;width:219px;height:64px;background:#fff"></div>
<div style="position:absolute;left:4px;top:50px;width:50px;height:24px;border:1px solid #b00000;border-bottom:none;background:linear-gradient(#ff5858,#e23434)"></div>
<div style="position:absolute;left:4px;top:74px;width:107px;height:38px;border:1px solid #b00000;border-top:none;background:linear-gradient(#e03232,#b00000)"></div>
<div style="position:absolute;left:55px;top:74px;width:58px;height:1px;background:#b00000"></div>
<div style="position:absolute;left:8px;top:73px;width:45px;height:1px;background:#8a0000"></div>
<div style="position:absolute;left:8px;top:74px;width:45px;height:1px;background:#ff7070"></div>
<div style="position:absolute;left:171px;top:50px;width:50px;height:24px;border:1px solid #b00000;border-bottom:none;background:linear-gradient(#ff5858,#e23434)"></div>
<div style="position:absolute;left:115px;top:74px;width:106px;height:38px;border:1px solid #b00000;border-top:none;background:linear-gradient(#e03232,#b00000)"></div>
<div style="position:absolute;left:115px;top:74px;width:56px;height:1px;background:#b00000"></div>
<div style="position:absolute;left:175px;top:73px;width:45px;height:1px;background:#8a0000"></div>
<div style="position:absolute;left:175px;top:74px;width:45px;height:1px;background:#ff7070"></div>
<div style="position:absolute;left:58px;top:50px;width:110px;height:20px;border:1px solid #a8a8a8;background:#fff"></div>
<div style="position:absolute;left:59px;top:51px;width:20px;height:20px;background:#e6e6e6;border-right:1px solid #a8a8a8"></div>
<div style="position:absolute;left:147px;top:51px;width:21px;height:20px;background:#e6e6e6;border-left:1px solid #a8a8a8"></div>
<svg style="position:absolute;left:0;top:0" width="230" height="120">
<path d="M66,59 L71.5,59 L68.75,62Z" fill="#000"/>
<path d="M155,62 L160.5,62 L157.75,59Z" fill="#000"/>
<g font-family="'Liberation Sans',sans-serif">
<text x="16" y="66" font-size="12.5" fill="#ffe8e8" textLength="26.5" lengthAdjust="spacingAndGlyphs">SELL</text>
<text x="184.5" y="66" font-size="12.5" fill="#ffe8e8" textLength="24" lengthAdjust="spacingAndGlyphs">BUY</text>
<text x="144" y="64.5" font-size="12" fill="#000" text-anchor="end">1.00</text>
<text x="20" y="105" font-size="12.5" font-weight="bold" fill="#fff">22246</text>
<text x="55.8" y="105.3" font-size="33" fill="#fff">.</text><text x="65" y="105.3" font-size="33" fill="#fff" stroke="#c41c1c" stroke-width="0.5">0</text>
<text x="129.8" y="105" font-size="12.5" font-weight="bold" fill="#fff">22269</text>
<text x="166.5" y="105.3" font-size="33" fill="#fff">.</text><text x="175.7" y="105.3" font-size="33" fill="#fff" stroke="#c41c1c" stroke-width="0.5">0</text>
</g>
</svg>

</body></html>
